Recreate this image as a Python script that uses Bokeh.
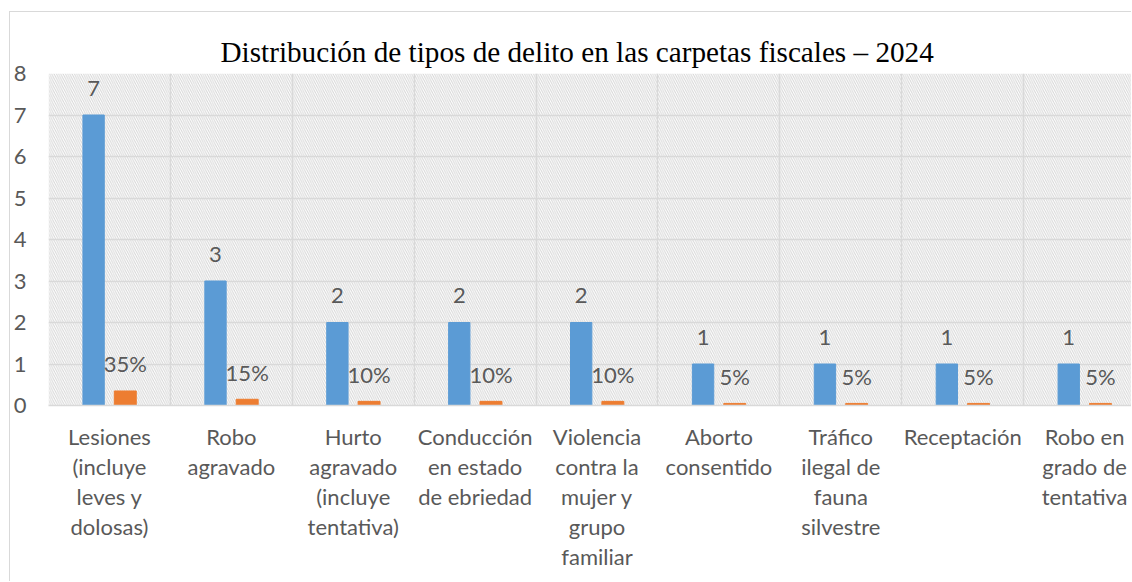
from bokeh.plotting import figure
from bokeh.models import Range1d, FixedTicker, BoxAnnotation, Title, ColumnDataSource
from bokeh.core.properties import value
from bokeh.embed import file_html
from bokeh.resources import INLINE

categories = [
    "Lesiones\n(incluye\nleves y\ndolosas)",
    "Robo\nagravado",
    "Hurto\nagravado\n(incluye\ntentativa)",
    "Conducción\nen estado\nde ebriedad",
    "Violencia\ncontra la\nmujer y\ngrupo\nfamiliar",
    "Aborto\nconsentido",
    "Tráfico\nilegal de\nfauna\nsilvestre",
    "Receptación",
    "Robo en\ngrado de\ntentativa",
]
counts = [7, 3, 2, 2, 2, 1, 1, 1, 1]
shares = [0.35, 0.15, 0.10, 0.10, 0.10, 0.05, 0.05, 0.05, 0.05]
y_ticks = [0, 1, 2, 3, 4, 5, 6, 7, 8]
title_text = "Distribución de tipos de delito en las carpetas fiscales – 2024"

BLUE = "#5B9BD5"
ORANGE = "#ED7D31"
GRID = "#d9d9d9"
TXT = "#595959"
FONT = "Lato"

n = len(categories)
centers = [i + 0.5 for i in range(n)]
xb = [c - 0.13 for c in centers]
xo = [c + 0.13 for c in centers]

src = ColumnDataSource(dict(
    xb=xb, xo=xo, counts=counts, shares=shares,
    clab=[str(c) for c in counts],
    slab=[f"{round(s * 100)}%" for s in shares],
))

p = figure(width=1122, height=570, output_backend="svg", toolbar_location=None,
           x_range=Range1d(0, 8.893), y_range=Range1d(0, 8),
           min_border_left=37, min_border_right=0, min_border_top=61,
           min_border_bottom=177)
p.outline_line_color = None
p.background_fill_color = "white"

# hatched plot area
p.add_layout(BoxAnnotation(fill_color=None, line_color=None,
                           hatch_pattern="\\", hatch_color="#d6d6d6",
                           hatch_scale=4.5, hatch_weight=1, level="image"))

p.vbar(x="xb", top="counts", width=0.175, source=src, color=BLUE)
p.vbar(x="xo", top="shares", width=0.18, source=src, color=ORANGE)

p.text(x="xb", y="counts", text="clab", source=src, text_align="center",
       text_baseline="alphabetic", y_offset=-27, text_font=value(FONT),
       text_font_size="22px", text_color=TXT)
p.text(x="xo", y="shares", text="slab", source=src, text_align="center",
       text_baseline="alphabetic", y_offset=-27, text_font=value(FONT),
       text_font_size="22px", text_color=TXT)

# grids
p.xgrid.ticker = FixedTicker(ticks=list(range(n + 1)))
p.ygrid.ticker = FixedTicker(ticks=y_ticks)
for g in (p.xgrid, p.ygrid):
    g.grid_line_color = GRID
    g.grid_line_width = 1.5

# x axis
p.xaxis.ticker = FixedTicker(ticks=centers)
p.xaxis.major_label_overrides = {c: lab for c, lab in zip(centers, categories)}
p.xaxis.axis_line_color = GRID
p.xaxis.axis_line_width = 1.5
p.xaxis.major_tick_line_color = None
p.xaxis.minor_tick_line_color = None
p.xaxis.major_tick_out = 0
p.xaxis.major_tick_in = 0
p.xaxis.major_label_text_font = FONT
p.xaxis.major_label_text_font_size = "22px"
p.xaxis.major_label_text_color = TXT
p.xaxis.major_label_text_line_height = 1.12
p.xaxis.major_label_standoff = 17

# y axis
p.yaxis.ticker = FixedTicker(ticks=y_ticks)
p.yaxis.axis_line_color = None
p.yaxis.major_tick_line_color = None
p.yaxis.minor_tick_line_color = None
p.yaxis.major_tick_out = 0
p.yaxis.major_tick_in = 0
p.yaxis.major_label_text_font = FONT
p.yaxis.major_label_text_font_size = "22px"
p.yaxis.major_label_text_color = TXT
p.yaxis.major_label_standoff = 22

p.add_layout(Title(text=title_text, align="left", offset=172,
                   text_font="Liberation Serif", text_font_size="29.2px",
                   text_font_style="normal", text_color="#000000",
                   standoff=11), "above")

p.styles = {"border-left": "1px solid #d9d9d9", "border-top": "1px solid #d9d9d9",
            "margin-top": "11px", "margin-left": "9px"}

open("out.html", "w").write(file_html(p, INLINE))
